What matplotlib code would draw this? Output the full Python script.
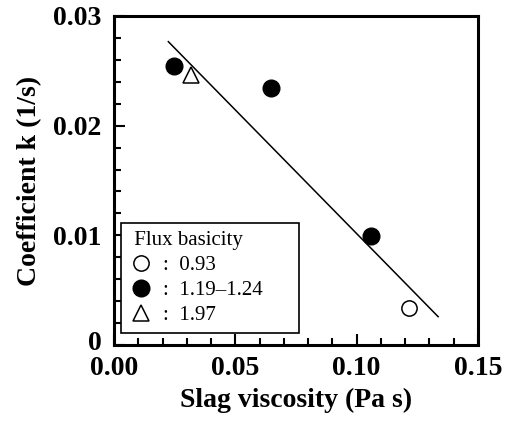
import matplotlib
matplotlib.use("Agg")
import matplotlib.pyplot as plt
import matplotlib.transforms as mtransforms
from matplotlib.lines import Line2D
from matplotlib.ticker import MultipleLocator

plt.rcParams['font.family'] = ['Liberation Serif', 'DejaVu Serif']

# data
open_x = [0.1217]
open_y = [0.00335]
filled_x = [0.0249, 0.0646, 0.1059]
filled_y = [0.0254, 0.02346, 0.00994]
tri_x = [0.0316]
tri_y = [0.0246]
fit_x = [0.0224, 0.1336]
fit_y = [0.02766, 0.00258]

x_ticks = [0, 0.05, 0.10, 0.15]
x_ticklabels = ["0.00", "0.05", "0.10", "0.15"]
y_ticks = [0, 0.01, 0.02, 0.03]
y_ticklabels = ["0", "0.01", "0.02", "0.03"]
legend_labels = [":  0.93", ":  1.19\u20131.24", ":  1.97"]

fig = plt.figure(figsize=(5.10, 4.23), dpi=100)
ax = fig.add_axes([0.2235, 0.1844, 0.7137, 0.7778])

ax.plot(fit_x, fit_y, color='black', lw=1.1, zorder=2)
ax.plot(filled_x, filled_y, 'o', ms=12, mfc='black', mec='black', zorder=3)
ax.plot(open_x, open_y, 'o', ms=11, mfc='white', mec='black', mew=1.1, zorder=3)
ax.plot(tri_x, tri_y, '^', ms=12, mfc='white', mec='black', mew=1.1, zorder=3)

ax.set_xlim(0, 0.15)
ax.set_ylim(0, 0.03)
ax.set_xticks(x_ticks)
ax.set_xticklabels(x_ticklabels)
ax.set_yticks(y_ticks)
ax.set_yticklabels(y_ticklabels)
ax.xaxis.set_minor_locator(MultipleLocator(0.01))
ax.yaxis.set_minor_locator(MultipleLocator(0.002))

for s in ax.spines.values():
    s.set_linewidth(2.2)
ax.tick_params(which='both', direction='in', width=1.5, labelsize=20, top=False, right=False)
ax.tick_params(which='major', length=8)
ax.tick_params(which='minor', length=5)
ax.tick_params(axis='x', which='major', pad=8)
ax.tick_params(axis='y', which='major', pad=9)
for lab in ax.get_xticklabels() + ax.get_yticklabels():
    lab.set_fontweight('bold')

# lift the "0" on the y axis a little so it clears "0.00"
zero_lab = ax.yaxis.get_major_ticks()[0].label1
zero_lab.set_transform(zero_lab.get_transform() +
                       mtransforms.ScaledTranslation(0, 3 / 72, fig.dpi_scale_trans))

ax.set_xlabel("Slag viscosity (Pa s)", fontsize=20, fontweight='bold', labelpad=5)
ax.set_ylabel("Coefficient k (1/s)", fontsize=20, fontweight='bold', labelpad=8)

handles = [
    Line2D([], [], ls='none', marker='o', ms=11, mfc='white', mec='black', mew=1.1),
    Line2D([], [], ls='none', marker='o', ms=12, mfc='black', mec='black'),
    Line2D([], [], ls='none', marker='^', ms=12, mfc='white', mec='black', mew=1.1),
]
leg = ax.legend(handles, legend_labels, title=" Flux basicity", loc='lower left',
                bbox_to_anchor=(0.018, 0.036, 0.491, 0.3), mode='expand',
                borderaxespad=0, fontsize=15, title_fontsize=15, frameon=True,
                fancybox=False, framealpha=1, edgecolor='black',
                handlelength=1.2, handletextpad=0.45, labelspacing=0.25,
                borderpad=0.4, alignment='left')
leg.get_frame().set_linewidth(1.2)

fig.savefig("out.png", dpi=100)
